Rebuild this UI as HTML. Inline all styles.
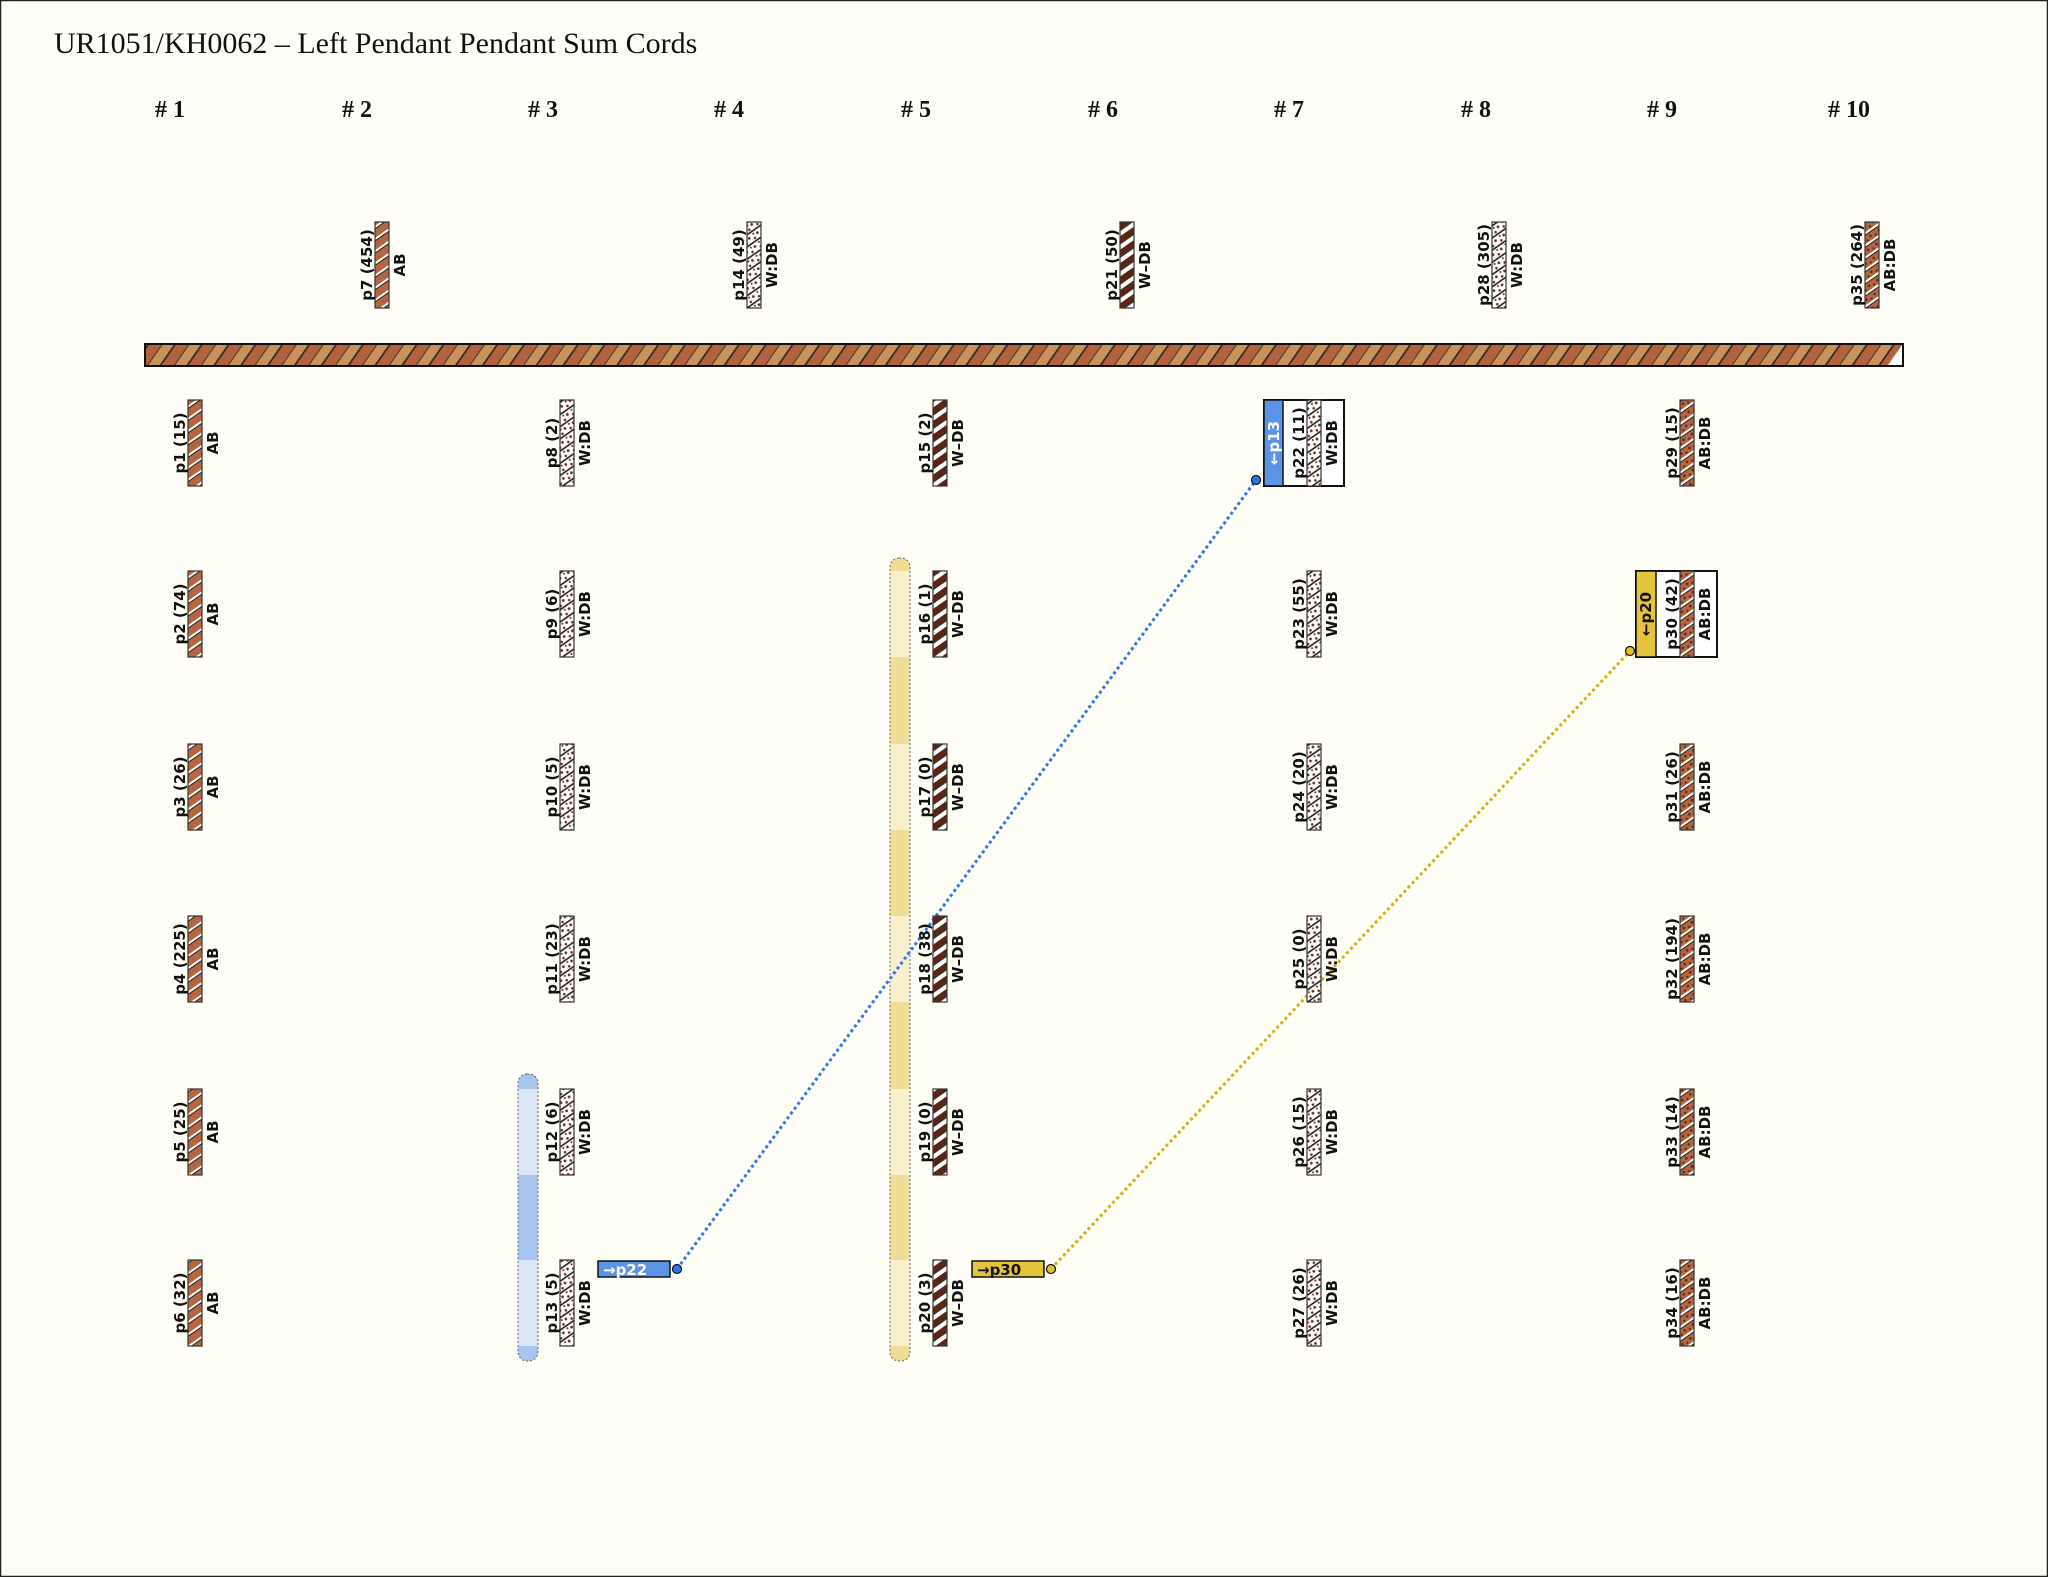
<!DOCTYPE html>
<html><head><meta charset="utf-8"><style>
html,body{margin:0;padding:0;background:#fffef7;}
svg{display:block;}
.t{font-family:"DejaVu Sans","Liberation Sans",sans-serif;font-size:15px;font-weight:bold;fill:#111;}
</style></head><body>
<svg width="2048" height="1577" viewBox="0 0 2048 1577" xmlns="http://www.w3.org/2000/svg">
<defs>
<pattern id="bar" width="22" height="22" patternUnits="userSpaceOnUse" patternTransform="rotate(35)">
<rect width="22" height="22" fill="#b2633e"/><rect width="11" height="22" fill="#c8925a"/>
<line x1="0" y1="0" x2="0" y2="22" stroke="#222" stroke-width="1.6"/><line x1="11" y1="0" x2="11" y2="22" stroke="#222" stroke-width="1.6"/>
</pattern>
<pattern id="ab" width="10" height="10" patternUnits="userSpaceOnUse" patternTransform="rotate(55)">
<rect width="10" height="10" fill="#b5653f"/><rect x="0" width="2" height="10" fill="#fff"/><rect x="2" width="1" height="10" fill="#222"/>
</pattern>
<pattern id="abdb" width="10" height="10" patternUnits="userSpaceOnUse" patternTransform="rotate(55)">
<rect width="10" height="10" fill="#b5653f"/><circle cx="6" cy="3" r="1.3" fill="#5a2614"/><circle cx="8" cy="8" r="1.1" fill="#5a2614"/><rect x="0" width="2" height="10" fill="#fff"/><rect x="2" width="1" height="10" fill="#222"/>
</pattern>
<pattern id="wdb" width="10" height="10" patternUnits="userSpaceOnUse" patternTransform="rotate(55)">
<rect width="10" height="10" fill="#fff"/><circle cx="5" cy="3" r="1.4" fill="#6a2a14"/><circle cx="8" cy="8" r="1.3" fill="#6a2a14"/><circle cx="3.5" cy="7" r="1" fill="#6a2a14"/><rect x="0" width="1.6" height="10" fill="#222"/>
</pattern>
<pattern id="wmdb" width="11" height="11" patternUnits="userSpaceOnUse" patternTransform="rotate(55)">
<rect width="11" height="11" fill="#fff"/><rect width="6" height="11" fill="#5a2614"/><rect x="6" width="0.8" height="11" fill="#222"/>
</pattern>
</defs>
<rect x="0.5" y="0.5" width="2047" height="1576" fill="#fffef7" stroke="#222" stroke-width="1.5"/>
<text x="54" y="53" font-family="'Liberation Serif',serif" font-size="30" fill="#111">UR1051/KH0062 – Left Pendant Pendant Sum Cords</text>
<g font-family="'Liberation Serif',serif" font-size="24" font-weight="bold" fill="#111" text-anchor="middle">
<text x="170" y="117"># 1</text><text x="357" y="117"># 2</text><text x="543" y="117"># 3</text><text x="729" y="117"># 4</text><text x="916" y="117"># 5</text><text x="1103" y="117"># 6</text><text x="1289" y="117"># 7</text><text x="1476" y="117"># 8</text><text x="1662" y="117"># 9</text><text x="1849" y="117"># 10</text>
</g>
<g>
<rect x="518" y="1074" width="20" height="287" rx="9" fill="#a9c4ee"/>
<rect x="518" y="1089" width="20" height="86" fill="#dce6f5"/>
<rect x="518" y="1260" width="20" height="86" fill="#dce6f5"/>
<rect x="518" y="1074" width="20" height="287" rx="9" fill="none" stroke="#666" stroke-width="1" stroke-dasharray="2,2"/>
<rect x="890" y="558" width="20" height="803" rx="9" fill="#efdc95"/>
<rect x="890" y="571" width="20" height="86" fill="#f8f0cc"/>
<rect x="890" y="744" width="20" height="86" fill="#f8f0cc"/>
<rect x="890" y="916" width="20" height="86" fill="#f8f0cc"/>
<rect x="890" y="1089" width="20" height="86" fill="#f8f0cc"/>
<rect x="890" y="1260" width="20" height="86" fill="#f8f0cc"/>
<rect x="890" y="558" width="20" height="803" rx="9" fill="none" stroke="#666" stroke-width="1" stroke-dasharray="2,2"/>
</g>
<rect x="145" y="344" width="1758" height="22" fill="url(#bar)" stroke="#111" stroke-width="2"/>
<polygon points="1888,365 1902,345 1902,365" fill="#fff"/>
<line x1="677" y1="1269" x2="1256" y2="480" stroke="#2a78f0" stroke-width="3" stroke-dasharray="3,3"/>
<line x1="1051" y1="1269" x2="1630" y2="651" stroke="#d8b010" stroke-width="3" stroke-dasharray="3,3"/>
<rect x="1264" y="400" width="80" height="86" fill="#fff" stroke="#111" stroke-width="2"/>
<rect x="1264" y="400" width="19" height="86" fill="#5b93e6" stroke="#111" stroke-width="1.5"/>
<text class="t" transform="translate(1279,443) rotate(-90)" text-anchor="middle" style="fill:#fff">←p13</text>
<circle cx="1256" cy="480" r="4.5" fill="#2a78f0" stroke="#111" stroke-width="1.2"/>
<rect x="1636" y="571" width="81" height="86" fill="#fff" stroke="#111" stroke-width="2"/>
<rect x="1636" y="571" width="20" height="86" fill="#e3c43c" stroke="#111" stroke-width="1.5"/>
<text class="t" transform="translate(1651,614) rotate(-90)" text-anchor="middle">←p20</text>
<circle cx="1630" cy="651" r="4.5" fill="#e8c020" stroke="#111" stroke-width="1.2"/>
<rect x="598" y="1261" width="72" height="16" fill="#5b93e6" stroke="#111" stroke-width="1.5"/>
<text class="t" x="603" y="1275" style="fill:#fff">→p22</text>
<circle cx="677" cy="1269" r="4.5" fill="#2a78f0" stroke="#111" stroke-width="1.2"/>
<rect x="972" y="1261" width="72" height="16" fill="#e3c43c" stroke="#111" stroke-width="1.5"/>
<text class="t" x="977" y="1275">→p30</text>
<circle cx="1051" cy="1269" r="4.5" fill="#e8c020" stroke="#111" stroke-width="1.2"/>
<g id="cords"></g>
<script>
(function(){
var g=document.getElementById('cords');var ns='http://www.w3.org/2000/svg';
function cord(cx,top,name,col,pat){
 var r=document.createElementNS(ns,'rect');r.setAttribute('x',cx-7);r.setAttribute('y',top);r.setAttribute('width',14);r.setAttribute('height',86);r.setAttribute('fill','url(#'+pat+')');r.setAttribute('stroke','#333');r.setAttribute('stroke-width','1.2');g.appendChild(r);
 var cy=top+43;
 var t=document.createElementNS(ns,'text');t.setAttribute('class','t');t.setAttribute('text-anchor','middle');t.setAttribute('transform','translate('+(cx-10)+','+cy+') rotate(-90)');t.textContent=name;g.appendChild(t);
 var t2=document.createElementNS(ns,'text');t2.setAttribute('class','t');t2.setAttribute('text-anchor','middle');t2.setAttribute('transform','translate('+(cx+23)+','+cy+') rotate(-90)');t2.textContent=col;g.appendChild(t2);
}
var tops=[400,571,744,916,1089,1260];
cord(382,222,'p7 (454)','AB','ab');cord(754,222,'p14 (49)','W:DB','wdb');cord(1127,222,'p21 (50)','W–DB','wmdb');cord(1499,222,'p28 (305)','W:DB','wdb');cord(1872,222,'p35 (264)','AB:DB','abdb');
var cols=[[195,[1,2,3,4,5,6],[15,74,26,225,25,32],'AB','ab'],[567,[8,9,10,11,12,13],[2,6,5,23,6,5],'W:DB','wdb'],[940,[15,16,17,18,19,20],[2,1,0,38,0,3],'W–DB','wmdb'],[1314,[22,23,24,25,26,27],[11,55,20,0,15,26],'W:DB','wdb'],[1687,[29,30,31,32,33,34],[15,42,26,194,14,16],'AB:DB','abdb']];
cols.forEach(function(c){for(var i=0;i<6;i++)cord(c[0],tops[i],'p'+c[1][i]+' ('+c[2][i]+')',c[3],c[4]);});
})();
</script>
</svg>
</body></html>
